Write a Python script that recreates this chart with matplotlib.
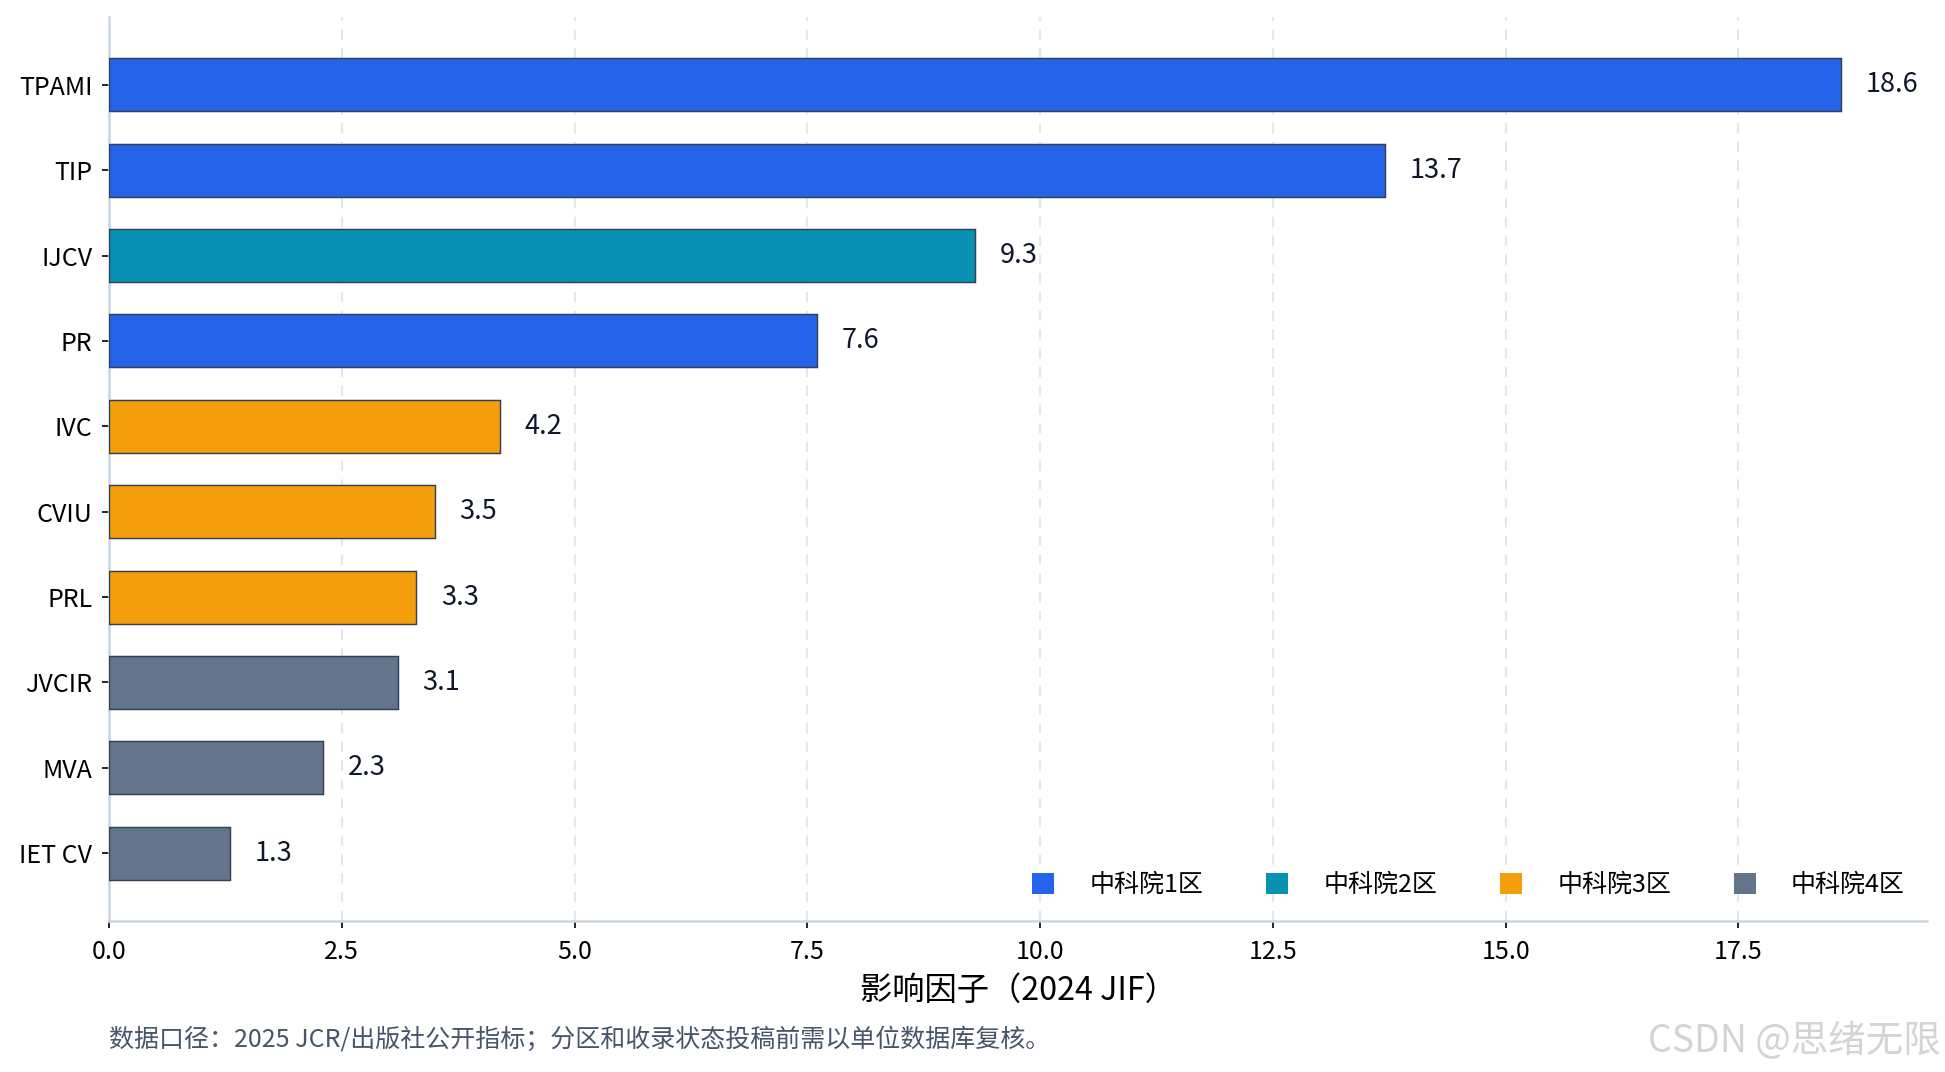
import matplotlib
matplotlib.use("Agg")
import matplotlib.pyplot as plt
from matplotlib.patches import Patch

plt.rcParams['font.family'] = ['Noto Sans CJK SC', 'DejaVu Sans']

# data
journals = ["TPAMI", "TIP", "IJCV", "PR", "IVC", "CVIU", "PRL", "JVCIR", "MVA", "IET CV"]
jif = [18.6, 13.7, 9.3, 7.6, 4.2, 3.5, 3.3, 3.1, 2.3, 1.3]
zones = [1, 1, 2, 1, 3, 3, 3, 4, 4, 4]

zone_names = ["中科院1区", "中科院2区", "中科院3区", "中科院4区"]
zone_colors = {1: "#2563EB", 2: "#0891B2", 3: "#F59E0B", 4: "#64748B"}

fig = plt.figure(figsize=(1945 / 150, 1072 / 150), dpi=150)
ax = fig.add_axes([0.056, 0.141, 0.935, 0.843])

y = list(range(len(journals)))
colors = [zone_colors[z] for z in zones]
ax.barh(y, jif, height=0.62, color=colors, edgecolor="#334155", linewidth=0.7, zorder=3)
ax.invert_yaxis()

xmax = max(jif) * 1.05
ax.set_xlim(0, xmax)

for yi, v in zip(y, jif):
    ax.text(v + xmax * 0.0135, yi, f"{v:.1f}", va="center", ha="left",
            fontsize=13, color="#0f172a")

ax.set_yticks(y)
ax.set_yticklabels(journals, fontsize=12)
ax.tick_params(axis="y", pad=4.5)
ax.tick_params(axis="x", labelsize=12, pad=5)
ax.set_xlabel("影响因子（2024 JIF）", fontsize=15.5, labelpad=5)

ax.grid(axis="x", linestyle=(0, (5, 4)), color="#e5e7eb", linewidth=1, zorder=0)
for s in ["top", "right"]:
    ax.spines[s].set_visible(False)
for s in ["left", "bottom"]:
    ax.spines[s].set_color("#cbd5e1")
    ax.spines[s].set_linewidth(1.2)

handles = [Patch(facecolor=zone_colors[i + 1], edgecolor="none", label=n)
           for i, n in enumerate(zone_names)]
ax.legend(handles=handles, loc="lower right", ncol=4, frameon=False, fontsize=12,
          handlelength=0.9, handleheight=0.9, handletextpad=1.4, columnspacing=2.5,
          borderaxespad=0.5)

fig.text(0.056, 0.029, "数据口径：2025 JCR/出版社公开指标；分区和收录状态投稿前需以单位数据库复核。",
         fontsize=12, color="#475569", ha="left", va="center")
fig.text(0.998, 0.028, "CSDN @思绪无限", fontsize=18, color="#d4d4d4",
         ha="right", va="center")

fig.savefig("out.png", dpi=150)
